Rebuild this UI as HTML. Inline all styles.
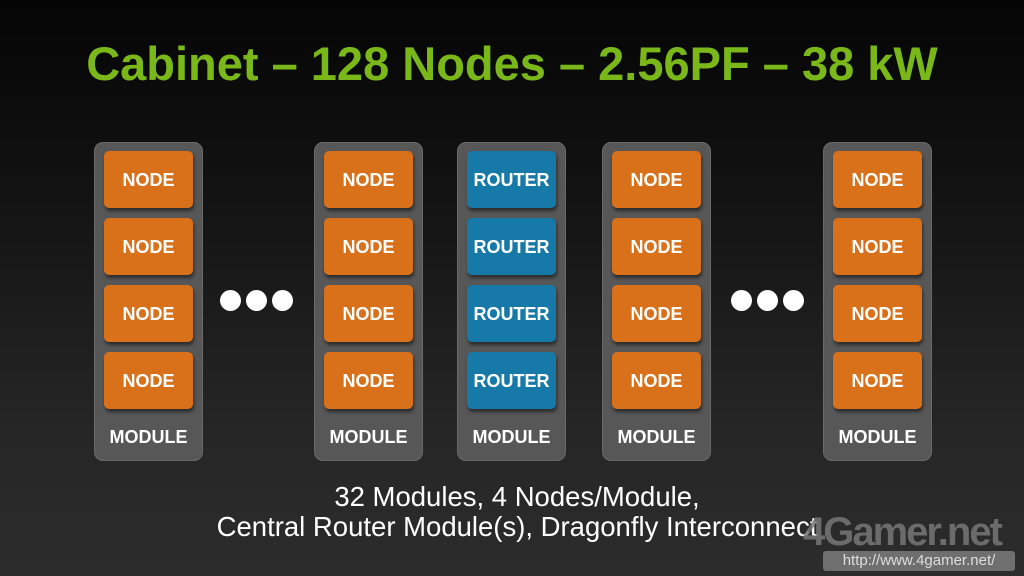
<!DOCTYPE html>
<html><head><style>
body{margin:0;width:1024px;height:576px;overflow:hidden;background:linear-gradient(#050505 0%,#111 30%,#262626 75%,#2c2c2c 100%);font-family:"Liberation Sans",sans-serif;position:relative}
.t{position:absolute;top:36px;left:0;width:1024px;text-align:center;color:#7ab81a;font-weight:bold;font-size:47px}
.m{position:absolute;top:142px;width:107px;height:317px;background:#575757;border:1px solid #6a6a6a;border-radius:9px}
.n{position:absolute;left:9px;width:89px;height:57px;background:#d9701a;border-radius:5px;color:#fff;font-weight:bold;font-size:18px;line-height:59px;text-align:center;box-shadow:1px 3px 3px rgba(0,0,0,.5)}
.r{background:#1679a7}
.l{position:absolute;left:0;width:107px;top:284px;text-align:center;color:#fff;font-weight:bold;font-size:18px}
.d{position:absolute;width:21px;height:21px;border-radius:50%;background:#fff;top:290px}
.s{position:absolute;left:0;width:1034px;text-align:center;color:#fff;font-size:27.5px}
.w{position:absolute;left:803px;top:510px;font-size:40px;font-weight:bold;color:#777;opacity:.85;letter-spacing:-2px}
.u{position:absolute;left:823px;top:551px;width:192px;height:20px;background:#6f6f6f;border-radius:3px;color:#ddd;font-size:15px;line-height:20px;text-align:center}
</style></head><body>
<div class="t">Cabinet – 128 Nodes – 2.56PF – 38 kW</div>

<div class="m" style="left:94px"><div class="n" style="top:8px">NODE</div><div class="n" style="top:75px">NODE</div><div class="n" style="top:142px">NODE</div><div class="n" style="top:209px">NODE</div><div class="l">MODULE</div></div>
<div class="m" style="left:314px"><div class="n" style="top:8px">NODE</div><div class="n" style="top:75px">NODE</div><div class="n" style="top:142px">NODE</div><div class="n" style="top:209px">NODE</div><div class="l">MODULE</div></div>
<div class="m" style="left:457px"><div class="n r" style="top:8px">ROUTER</div><div class="n r" style="top:75px">ROUTER</div><div class="n r" style="top:142px">ROUTER</div><div class="n r" style="top:209px">ROUTER</div><div class="l">MODULE</div></div>
<div class="m" style="left:602px"><div class="n" style="top:8px">NODE</div><div class="n" style="top:75px">NODE</div><div class="n" style="top:142px">NODE</div><div class="n" style="top:209px">NODE</div><div class="l">MODULE</div></div>
<div class="m" style="left:823px"><div class="n" style="top:8px">NODE</div><div class="n" style="top:75px">NODE</div><div class="n" style="top:142px">NODE</div><div class="n" style="top:209px">NODE</div><div class="l">MODULE</div></div>

<div class="d" style="left:220px"></div><div class="d" style="left:246px"></div><div class="d" style="left:272px"></div>
<div class="d" style="left:731px"></div><div class="d" style="left:757px"></div><div class="d" style="left:783px"></div>

<div class="s" style="top:481px">32 Modules, 4 Nodes/Module,</div>
<div class="s" style="top:511px">Central Router Module(s), Dragonfly Interconnect</div>
<div class="w">4Gamer.net</div>
<div class="u">http://www.4gamer.net/</div>
</body></html>
